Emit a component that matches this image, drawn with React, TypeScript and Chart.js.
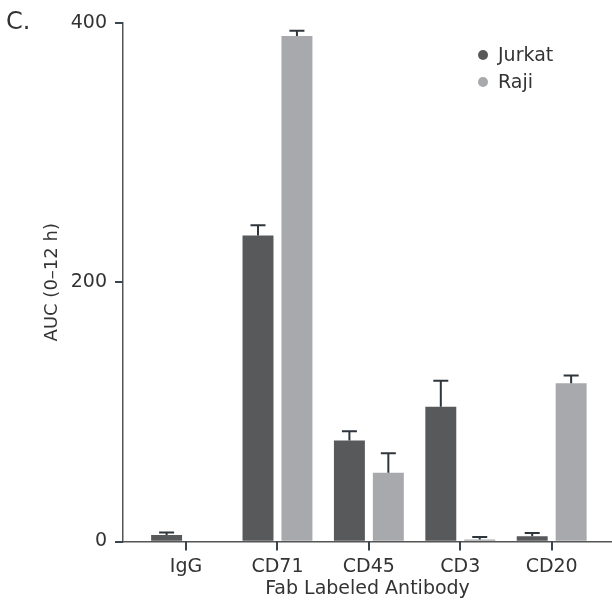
import React, { useEffect, useRef } from "react";
import { Chart, registerables } from "chart.js";

Chart.register(...registerables);

const categories = ["IgG", "CD71", "CD45", "CD3", "CD20"];
const jurkatValues = [5, 236, 78, 104, 4];
const jurkatErrors = [2, 8, 7, 20, 2.5];
const rajiValues = [0, 390, 53, 1.5, 122];
const rajiErrors = [0, 4, 15, 2, 6];
const yTicks = [0, 200, 400];

const JURKAT_COLOR = "#58595b";
const RAJI_COLOR = "#a7a9ac";
const AXIS_COLOR = "#555555";
const TICK_COLOR = "#3b454b";
const TEXT_COLOR = "#333333";
const ERR_COLOR = "#2e363c";
const FONT_FAMILY = "'DejaVu Sans', sans-serif";
const TICK_LEN = 8;

const errorBarPlugin = {
  id: "errorBars",
  afterDatasetsDraw(chart: any) {
    const ctx = chart.ctx;
    const yScale = chart.scales.y;
    ctx.save();
    ctx.strokeStyle = ERR_COLOR;
    ctx.lineWidth = 2;
    chart.data.datasets.forEach((ds: any, di: number) => {
      const meta = chart.getDatasetMeta(di);
      meta.data.forEach((el: any, i: number) => {
        const err = ds.errors[i];
        const val = ds.data[i].y;
        if (!err || !val) return;
        const yTop = yScale.getPixelForValue(val + err);
        ctx.beginPath();
        ctx.moveTo(el.x, el.y);
        ctx.lineTo(el.x, yTop);
        ctx.moveTo(el.x - 7.5, yTop);
        ctx.lineTo(el.x + 7.5, yTop);
        ctx.stroke();
      });
    });
    ctx.restore();
  },
};

const extrasPlugin = {
  id: "extras",
  afterDraw(chart: any) {
    const ctx = chart.ctx;
    const xs = chart.scales.x;
    const ys = chart.scales.y;
    const area = chart.chartArea;
    ctx.save();
    ctx.strokeStyle = TICK_COLOR;
    ctx.lineWidth = 2;
    for (let i = 0; i < categories.length; i++) {
      const px = Math.round(xs.getPixelForValue(i));
      ctx.beginPath();
      ctx.moveTo(px, area.bottom);
      ctx.lineTo(px, area.bottom + TICK_LEN + 1);
      ctx.stroke();
    }
    for (const v of yTicks) {
      const py = Math.round(ys.getPixelForValue(v));
      ctx.beginPath();
      ctx.moveTo(area.left, py);
      ctx.lineTo(area.left - TICK_LEN, py);
      ctx.stroke();
    }
    ctx.fillStyle = TEXT_COLOR;
    ctx.font = `24px ${FONT_FAMILY}`;
    ctx.textBaseline = "alphabetic";
    ctx.textAlign = "left";
    ctx.fillText("C.", 6, 29);
    ctx.font = `19px ${FONT_FAMILY}`;
    ctx.textBaseline = "middle";
    chart.data.datasets.forEach((ds: any, i: number) => {
      const y = 55 + i * 27;
      ctx.fillStyle = ds.backgroundColor;
      ctx.beginPath();
      ctx.arc(483, y, 5, 0, Math.PI * 2);
      ctx.fill();
      ctx.fillStyle = TEXT_COLOR;
      ctx.fillText(ds.label, 498, y + 1);
    });
    ctx.restore();
  },
};

export default function App() {
  const canvasRef = useRef<HTMLCanvasElement | null>(null);

  useEffect(() => {
    if (!canvasRef.current) return;
    const font = { family: FONT_FAMILY, size: 19 };
    const chart = new Chart(canvasRef.current, {
      type: "bar",
      data: {
        datasets: [
          {
            label: "Jurkat",
            data: jurkatValues.map((v, i) => ({ x: i, y: v })),
            errors: jurkatErrors,
            backgroundColor: JURKAT_COLOR,
            borderWidth: 0,
            categoryPercentage: 0.852,
            barPercentage: 0.795,
          } as any,
          {
            label: "Raji",
            data: rajiValues.map((v, i) => ({ x: i, y: v })),
            errors: rajiErrors,
            backgroundColor: RAJI_COLOR,
            borderWidth: 0,
            categoryPercentage: 0.852,
            barPercentage: 0.795,
          } as any,
        ],
      },
      options: {
        responsive: false,
        animation: false,
        layout: { padding: { top: 23, right: 0, bottom: 0, left: 0 } },
        plugins: {
          legend: { display: false },
          tooltip: { enabled: false },
        },
        scales: {
          x: {
            type: "linear",
            offset: false,
            min: -0.69,
            max: 4.66,
            afterBuildTicks: (s: any) => {
              s.ticks = categories.map((_, i) => ({ value: i }));
            },
            afterFit: (s: any) => {
              s.height = 602 - 541.5;
            },
            ticks: {
              font,
              color: TEXT_COLOR,
              padding: 6,
              autoSkip: false,
              maxRotation: 0,
              callback: (v: any) => categories[Math.round(Number(v))],
            },
            grid: {
              offset: false,
              drawOnChartArea: false,
              drawTicks: true,
              tickLength: TICK_LEN,
              tickColor: "rgba(0,0,0,0)",
              color: AXIS_COLOR,
              lineWidth: 1.5,
            },
            border: { color: AXIS_COLOR, width: 1.5 },
            title: {
              display: true,
              text: "Fab Labeled Antibody",
              font,
              color: TEXT_COLOR,
              padding: { top: 0, bottom: 2 },
            },
          } as any,
          y: {
            min: 0,
            max: 400,
            afterBuildTicks: (s: any) => {
              s.ticks = yTicks.map((v) => ({ value: v }));
            },
            afterFit: (s: any) => {
              s.width = 123;
            },
            ticks: { font, color: TEXT_COLOR, padding: 8 },
            grid: {
              drawOnChartArea: false,
              drawTicks: true,
              tickLength: TICK_LEN,
              tickColor: "rgba(0,0,0,0)",
              color: AXIS_COLOR,
              lineWidth: 1.5,
            },
            border: { color: AXIS_COLOR, width: 1.5 },
            title: {
              display: true,
              text: "AUC (0–12 h)",
              font: { family: FONT_FAMILY, size: 18 },
              color: TEXT_COLOR,
              padding: { top: 42, bottom: 0 },
            },
          } as any,
        },
      } as any,
      plugins: [errorBarPlugin, extrasPlugin],
    });
    return () => chart.destroy();
  }, []);

  return (
    <div style={{ position: "fixed", left: 0, top: 0, width: 612, height: 602, background: "#fff" }}>
      <canvas ref={canvasRef} width={612} height={602} />
    </div>
  );
}
